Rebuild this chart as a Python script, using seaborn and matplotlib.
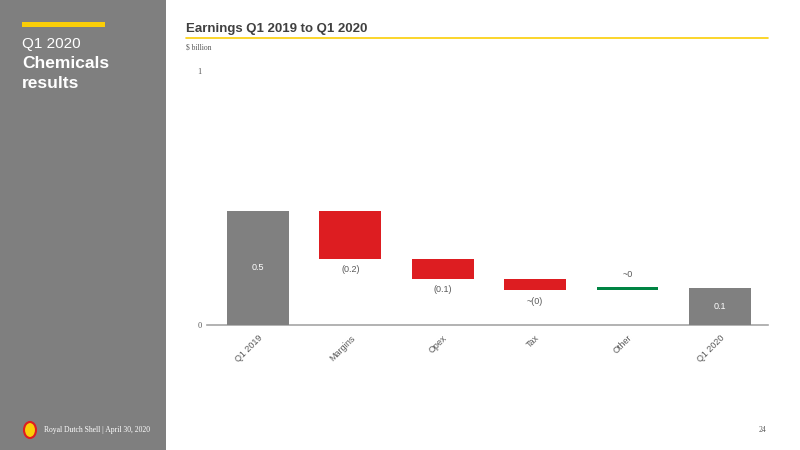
import numpy as np
import matplotlib
matplotlib.use("Agg")
import matplotlib.pyplot as plt
from matplotlib.patches import Rectangle, Ellipse
from matplotlib.lines import Line2D
import seaborn as sns

# waterfall data ($ billion)
categories = ["Q1 2019", "Margins", "Opex", "Tax", "Other", "Q1 2020"]
start_total = 0.449
deltas = [-0.188, -0.079, -0.046, 0.012]
end_total = 0.147
value_labels = ["0.5", "(0.2)", "(0.1)", "~(0)", "~0", "0.1"]

GREY = "#808080"
RED = "#dd1d21"
GREEN = "#008443"
YELLOW = "#fbce07"
TXT = "#595959"

# build bottoms / heights for the floating bars
levels = start_total + np.cumsum(deltas)
prev = np.concatenate([[start_total], levels[:-1]])
bottoms = [0.0] + list(np.minimum(prev, levels)) + [0.0]
heights = [start_total] + list(np.abs(deltas)) + [end_total]
colors = [GREY] + [RED if d < 0 else GREEN for d in deltas] + [GREY]

sns.set_style("white")
plt.rcParams["font.family"] = ["Liberation Sans", "DejaVu Sans"]

fig = plt.figure(figsize=(8, 4.5), dpi=100)

# left grey panel
fig.patches.append(Rectangle((0, 0), 166 / 800, 1, transform=fig.transFigure,
                             facecolor="#7f7f7f", edgecolor="none", zorder=0))
fig.patches.append(Rectangle((22 / 800, 1 - 27 / 450), 83 / 800, 5 / 450,
                             transform=fig.transFigure, facecolor=YELLOW,
                             edgecolor="none", zorder=1))
fig.text(22 / 800, 1 - 48 / 450, "Q1 2020", color="white", fontsize=11,
         va="baseline", ha="left")
fig.text(22 / 800, 1 - 68 / 450, "Chemicals", color="white", fontsize=12.5,
         fontweight="bold", va="baseline", ha="left")
fig.text(22 / 800, 1 - 88 / 450, "results", color="white", fontsize=12.5,
         fontweight="bold", va="baseline", ha="left")

# footer
fig.patches.append(Ellipse((30 / 800, 1 - 430 / 450), 12 / 800, 16 / 450,
                           transform=fig.transFigure, facecolor=YELLOW,
                           edgecolor=RED, lw=1.5, zorder=2))
fig.text(44 / 800, 1 - 430 / 450, "Royal Dutch Shell | April 30, 2020",
         color="white", fontsize=5.5, family="Liberation Serif", va="center")
fig.text(766 / 800, 1 - 430 / 450, "24", color=TXT, fontsize=5.5,
         family="Liberation Serif", va="center", ha="right")

# title
fig.text(186 / 800, 1 - 32 / 450, "Earnings Q1 2019 to Q1 2020", color="#404040",
         fontsize=9.5, fontweight="bold", va="baseline", ha="left")
fig.lines.append(Line2D([186 / 800, 768 / 800], [1 - 38 / 450, 1 - 38 / 450],
                        transform=fig.transFigure, color=YELLOW, lw=1.2))
fig.text(186 / 800, 1 - 48 / 450, "$ billion", color=TXT, fontsize=5.5,
         family="Liberation Serif", va="center", ha="left")

ax = fig.add_axes([207 / 800, 1 - 325 / 450, 561 / 800, 254 / 450])
sns.barplot(x=categories, y=heights, bottom=bottoms, color=GREY, width=0.67,
            errorbar=None, ax=ax, zorder=3)
for p, c in zip(ax.patches, colors):
    p.set_facecolor(c)
    p.set_edgecolor("none")

ax.set_xlim(-0.55, 5.52)
ax.set_ylim(0, 1)
ax.set_yticks([0, 1])
ax.set_yticklabels(["0", "1"], family="Liberation Serif", fontsize=6, color=TXT)
ax.set_xticks(range(len(categories)))
ax.set_xticklabels(categories, rotation=45, ha="right", rotation_mode="anchor",
                   fontsize=6.5, color=TXT)
ax.tick_params(axis="both", length=0)
ax.tick_params(axis="x", pad=6)
ax.tick_params(axis="y", pad=4)
for s in ["top", "right", "left"]:
    ax.spines[s].set_visible(False)
ax.spines["bottom"].set_color("#a6a6a6")
ax.spines["bottom"].set_linewidth(1.2)
ax.set_xlabel("")
ax.set_ylabel("")

# value labels
for i, lab in enumerate(value_labels):
    b, h = bottoms[i], heights[i]
    if i == 0 or i == len(categories) - 1:
        ax.text(i, b + h / 2, lab, color="white", fontsize=6.5, ha="center", va="center")
    elif deltas[i - 1] < 0:
        ax.annotate(lab, (i, b), xytext=(0, -8), textcoords="offset points",
                    color=TXT, fontsize=6.5, ha="center", va="center")
    else:
        ax.annotate(lab, (i, b + h), xytext=(0, 9), textcoords="offset points",
                    color=TXT, fontsize=6.5, ha="center", va="center")

fig.savefig("out.png", dpi=100)
